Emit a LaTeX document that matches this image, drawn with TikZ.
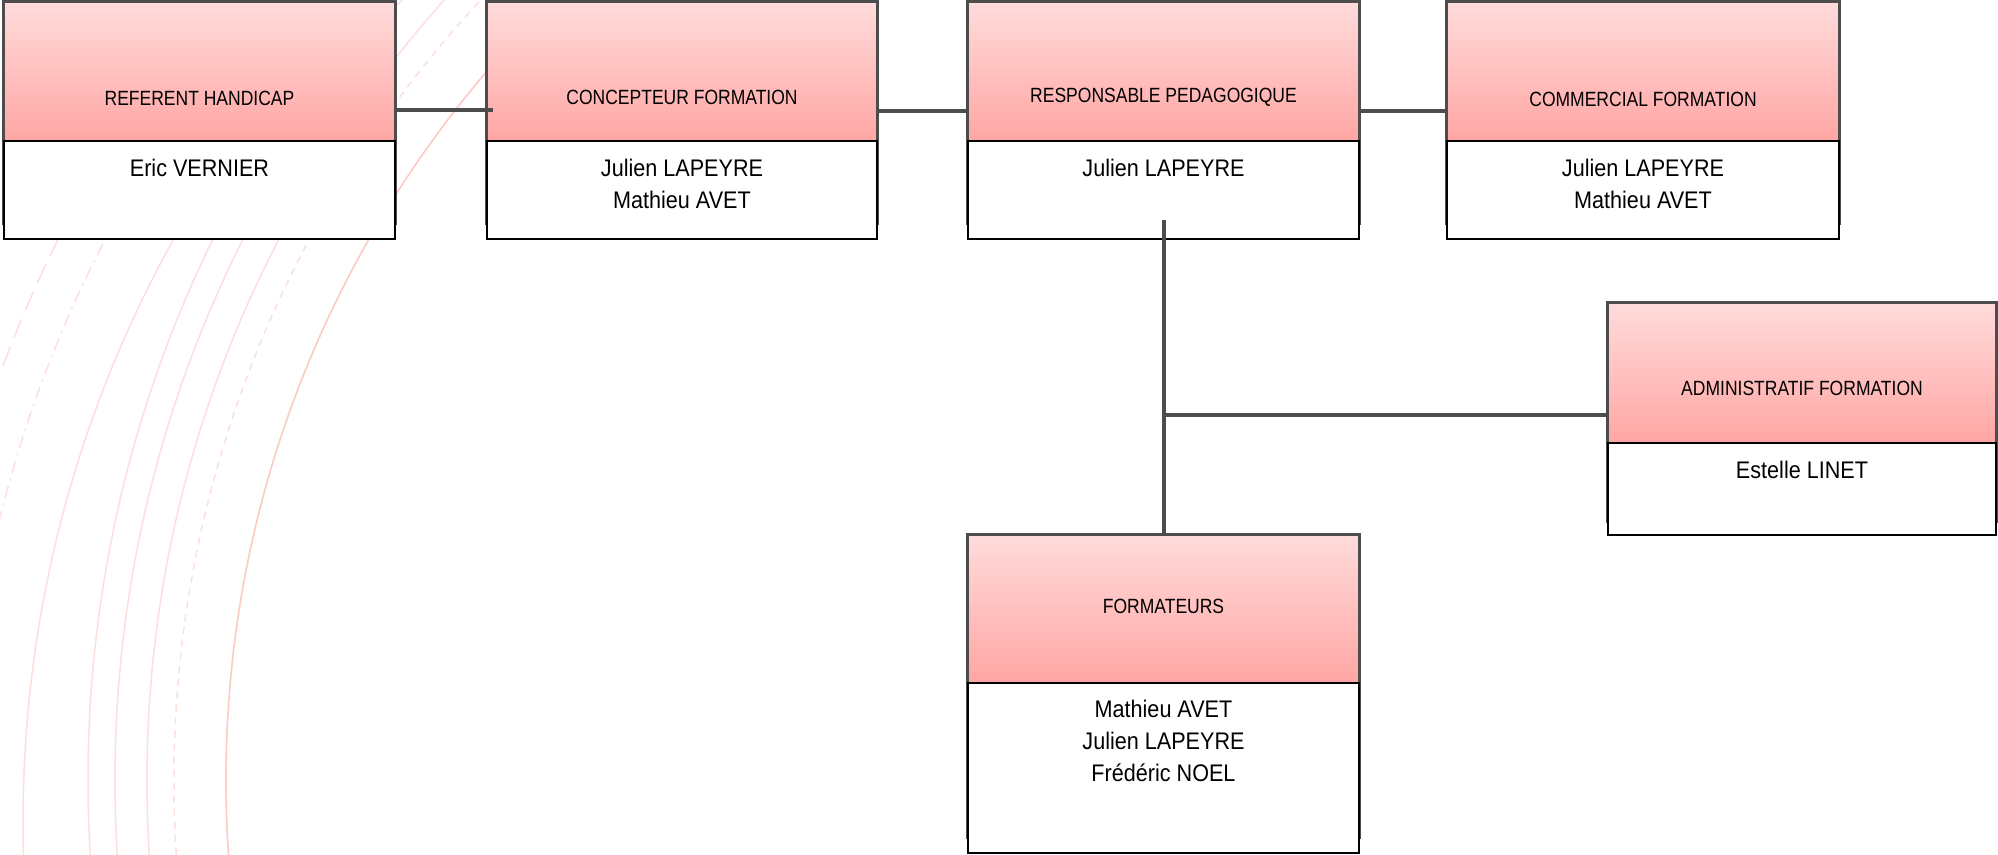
\documentclass[tikz,border=0pt]{standalone}
\usepackage{fontspec}
\setmainfont{Liberation Sans}
\newfontfamily\hdrfont[FakeStretch=0.85]{Liberation Sans}
\newfontfamily\namefont[FakeStretch=0.9]{Liberation Sans}
\usetikzlibrary{fit}
\definecolor{framegray}{RGB}{77,77,77}
\definecolor{hdrtop}{RGB}{255,219,219}
\definecolor{hdrbot}{RGB}{255,166,164}
\definecolor{arcA}{RGB}{251,203,196}
\definecolor{arcB}{RGB}{253,224,220}
\begin{document}
\begin{tikzpicture}[x=0.5pt,y=-0.5pt,
  hdrbox/.style={rectangle, draw=none, inner sep=0pt, shading=axis, top color=hdrtop, bottom color=hdrbot},
  bodybox/.style={rectangle, draw=black, line width=1pt, fill=white, inner sep=0pt},
  frm/.style={draw=framegray, line width=1.75pt},
  conn/.style={draw=framegray, line width=1.75pt},
  ttl/.style={inner sep=0pt, font=\hdrfont\fontsize{10.3pt}{12pt}\selectfont, text=black},
  ppl/.style={inner sep=0pt, align=center, font=\namefont\fontsize{12pt}{16pt}\selectfont, text=black},
  arcmain/.style={draw=arcA, line width=0.8pt},
  arcsoft/.style={draw=arcB, line width=0.75pt}]
\useasboundingbox (0,0) rectangle (1998,855);
\fill[white] (0,0) rectangle (1998,855);
% background arcs
\begin{scope}
\clip (0,0) rectangle (1998,855);
\draw[arcmain] (1319,780) circle[radius=1093];
\draw[arcsoft, dash pattern=on 3.5pt off 3pt] (1319,780) circle[radius=1145];
\draw[arcsoft] (1319,780) circle[radius=1172];
\draw[arcsoft] (1319,780) circle[radius=1204];
\draw[arcsoft] (1319,780) circle[radius=1231];
\draw[arcsoft] (1224,822) circle[radius=1201];
\draw[arcsoft, dash pattern=on 6pt off 3pt on 1pt off 3pt] (1224,822) circle[radius=1261];
\draw[arcsoft, dash pattern=on 10pt off 5pt] (1224,822) circle[radius=1303];
\end{scope}
% box 1
\node[hdrbox, fit={(4,2) (395,141)}] (h1) {};
\draw[frm] (h1.north west) rectangle ([yshift=8pt]h1.south east |- 0,239);
\node[bodybox, fit={(4,141) (395,239)}] (b1) {};
\node[ttl] (t1) at (199.5,98) {REFERENT HANDICAP};
\node[ppl] (p1) at (199.5,168) {Eric VERNIER};
% box 2
\node[hdrbox, fit={(487,2) (877,141)}] (h2) {};
\draw[frm] (h2.north west) rectangle ([yshift=8pt]h2.south east |- 0,239);
\node[bodybox, fit={(487,141) (877,239)}] (b2) {};
\node[ttl] (t2) at (682,97) {CONCEPTEUR FORMATION};
\node[ppl] (p2) at (682,184) {Julien LAPEYRE\\Mathieu AVET};
% box 3
\node[hdrbox, fit={(968,2) (1359,141)}] (h3) {};
\draw[frm] (h3.north west) rectangle ([yshift=8pt]h3.south east |- 0,239);
\node[bodybox, fit={(968,141) (1359,239)}] (b3) {};
\node[ttl] (t3) at (1163.5,97) {RESPONSABLE PEDAGOGIQUE};
\node[ppl] (p3) at (1163.5,168) {Julien LAPEYRE};
% box 4
\node[hdrbox, fit={(1447,2) (1839,141)}] (h4) {};
\draw[frm] (h4.north west) rectangle ([yshift=8pt]h4.south east |- 0,239);
\node[bodybox, fit={(1447,141) (1839,239)}] (b4) {};
\node[ttl] (t4) at (1643,99) {COMMERCIAL FORMATION};
\node[ppl] (p4) at (1643,184) {Julien LAPEYRE\\Mathieu AVET};
% box 5
\node[hdrbox, fit={(1608,303) (1996,443)}] (h5) {};
\draw[frm] (h5.north west) rectangle ([yshift=7pt]h5.south east |- 0,535);
\node[bodybox, fit={(1608,443) (1996,535)}] (b5) {};
\node[ttl] (t5) at (1802,388) {ADMINISTRATIF FORMATION};
\node[ppl] (p5) at (1802,470) {Estelle LINET};
% box 6
\node[hdrbox, fit={(968,535) (1359,683)}] (h6) {};
\draw[frm] (h6.north west) rectangle ([yshift=8pt]h6.south east |- 0,853);
\node[bodybox, fit={(968,683) (1359,853)}] (b6) {};
\node[ttl] (t6) at (1163.5,606) {FORMATEURS};
\node[ppl] (p6) at (1163.5,741) {Mathieu AVET\\Julien LAPEYRE\\Frédéric NOEL};
% connectors
\coordinate (e12) at (493,110);
\draw[conn] (h1.east |- e12) -- (e12);
\draw[conn] (h2.east |- 0,111) -- (h3.west |- 0,111);
\draw[conn] (h3.east |- 0,111) -- (h4.west |- 0,111);
\coordinate (v0) at (1164,220);
\coordinate (j) at (1164,415);
\draw[conn] (v0) -- (h6.north -| v0);
\draw[conn] (j) -- (h5.west |- j);
\end{tikzpicture}
\end{document}
